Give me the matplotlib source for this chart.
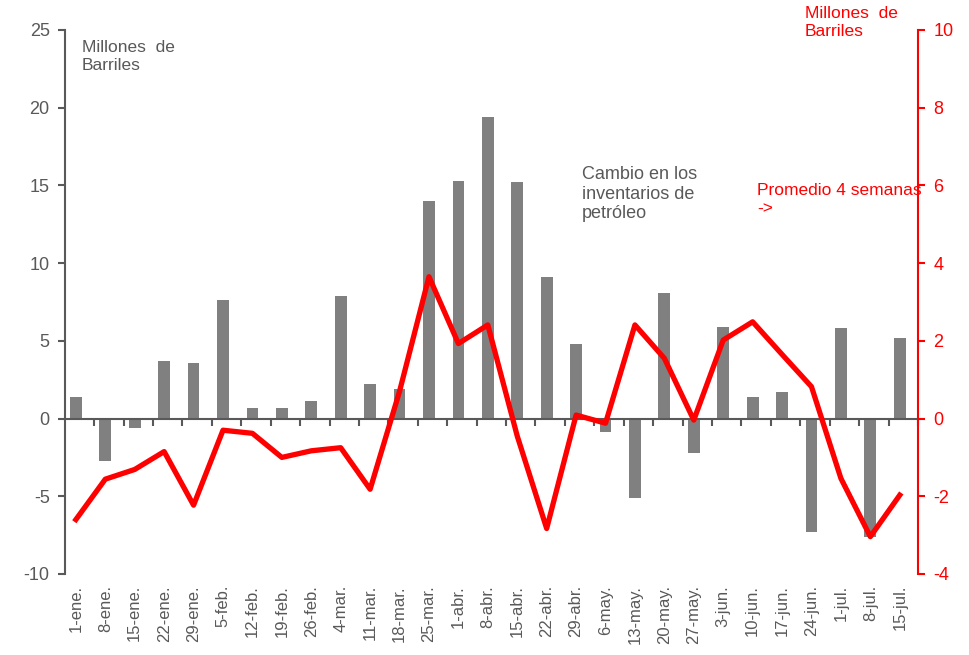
import matplotlib.pyplot as plt
import numpy as np

plt.rcParams['font.family'] = ['Liberation Sans', 'DejaVu Sans']
plt.rcParams['axes.unicode_minus'] = False

semanas = ['1-ene.', '8-ene.', '15-ene.', '22-ene.', '29-ene.', '5-feb.', '12-feb.',
           '19-feb.', '26-feb.', '4-mar.', '11-mar.', '18-mar.', '25-mar.', '1-abr.',
           '8-abr.', '15-abr.', '22-abr.', '29-abr.', '6-may.', '13-may.', '20-may.',
           '27-may.', '3-jun.', '10-jun.', '17-jun.', '24-jun.', '1-jul.', '8-jul.',
           '15-jul.']

# cambio semanal en inventarios (millones de barriles, eje izq.)
cambio = [1.4, -2.7, -0.6, 3.7, 3.6, 7.6, 0.7, 0.65, 1.1, 7.9, 2.2, 1.9, 14.0, 15.3,
          19.4, 15.2, 9.1, 4.8, -0.85, -5.1, 8.1, -2.2, 5.9, 1.4, 1.7, -7.3, 5.8,
          -7.6, 5.2]

# promedio 4 semanas (eje der.)
promedio = [-2.6, -1.56, -1.31, -0.85, -2.23, -0.30, -0.38, -1.0, -0.83, -0.75,
            -1.82, 0.7, 3.65, 1.93, 2.41, -0.45, -2.83, 0.09, -0.12, 2.41, 1.55,
            -0.04, 2.02, 2.49, 1.65, 0.82, -1.54, -3.04, -1.97]

gris = '#808080'
gris_txt = '#595959'
rojo = '#FF0000'

fig = plt.figure(figsize=(9.7, 6.55), dpi=100)
ax = fig.add_axes([0.067, 0.1237, 0.8794, 0.8305])
x = np.arange(len(semanas))

# spines first: set_position resets the tick styling
for s in ['right', 'bottom']:
    ax.spines[s].set_visible(False)
ax.spines['left'].set_color(gris_txt)
ax.spines['left'].set_linewidth(1.5)
ax.spines['top'].set_position(('data', 0))
ax.spines['top'].set_color(gris_txt)
ax.spines['top'].set_linewidth(1.5)

ax.bar(x, cambio, width=0.4, color=gris, zorder=2)
ax.set_ylim(-10, 25)
ax.set_yticks(range(-10, 26, 5))
ax.set_xlim(-0.37, 28.54)

ax.set_xticks(x)
ax.set_xticklabels(semanas, rotation=90, color=gris_txt, fontsize=12)
ax.set_xticks(x + 0.62, minor=True)
ax.tick_params(axis='x', which='major', length=0, pad=8, bottom=True, top=False,
               labelbottom=True, labeltop=False)
ax.tick_params(axis='x', which='minor', length=5, width=1.5, color=gris_txt,
               top=True, bottom=False, direction='in')
ax.tick_params(axis='y', colors=gris_txt, labelsize=13, length=5, width=1.5, pad=6)

ax2 = ax.twinx()
ax2.plot(x, promedio, color=rojo, lw=3.8, zorder=3)
ax2.set_ylim(-4, 10)
ax2.set_yticks(range(-4, 11, 2))
ax2.tick_params(axis='y', colors=rojo, labelsize=13, length=5, width=1.5, pad=6)
for s in ['left', 'top', 'bottom']:
    ax2.spines[s].set_visible(False)
ax2.spines['right'].set_color(rojo)
ax2.spines['right'].set_linewidth(1.5)

fig.text(82 / 970, 1 - 40 / 655, 'Millones  de\nBarriles', color=gris_txt,
         fontsize=12.5, va='top', ha='left', linespacing=1.25)
fig.text(805 / 970, 1 - 6 / 655, 'Millones  de\nBarriles', color=rojo,
         fontsize=12.5, va='top', ha='left', linespacing=1.25)
fig.text(582 / 970, 1 - 166 / 655, 'Cambio en los\ninventarios de\npetróleo',
         color=gris_txt, fontsize=13, va='top', ha='left', linespacing=1.2)
fig.text(757 / 970, 1 - 183 / 655, 'Promedio 4 semanas\n->', color=rojo,
         fontsize=12.5, va='top', ha='left', linespacing=1.25)

fig.savefig('out.png', dpi=100)
